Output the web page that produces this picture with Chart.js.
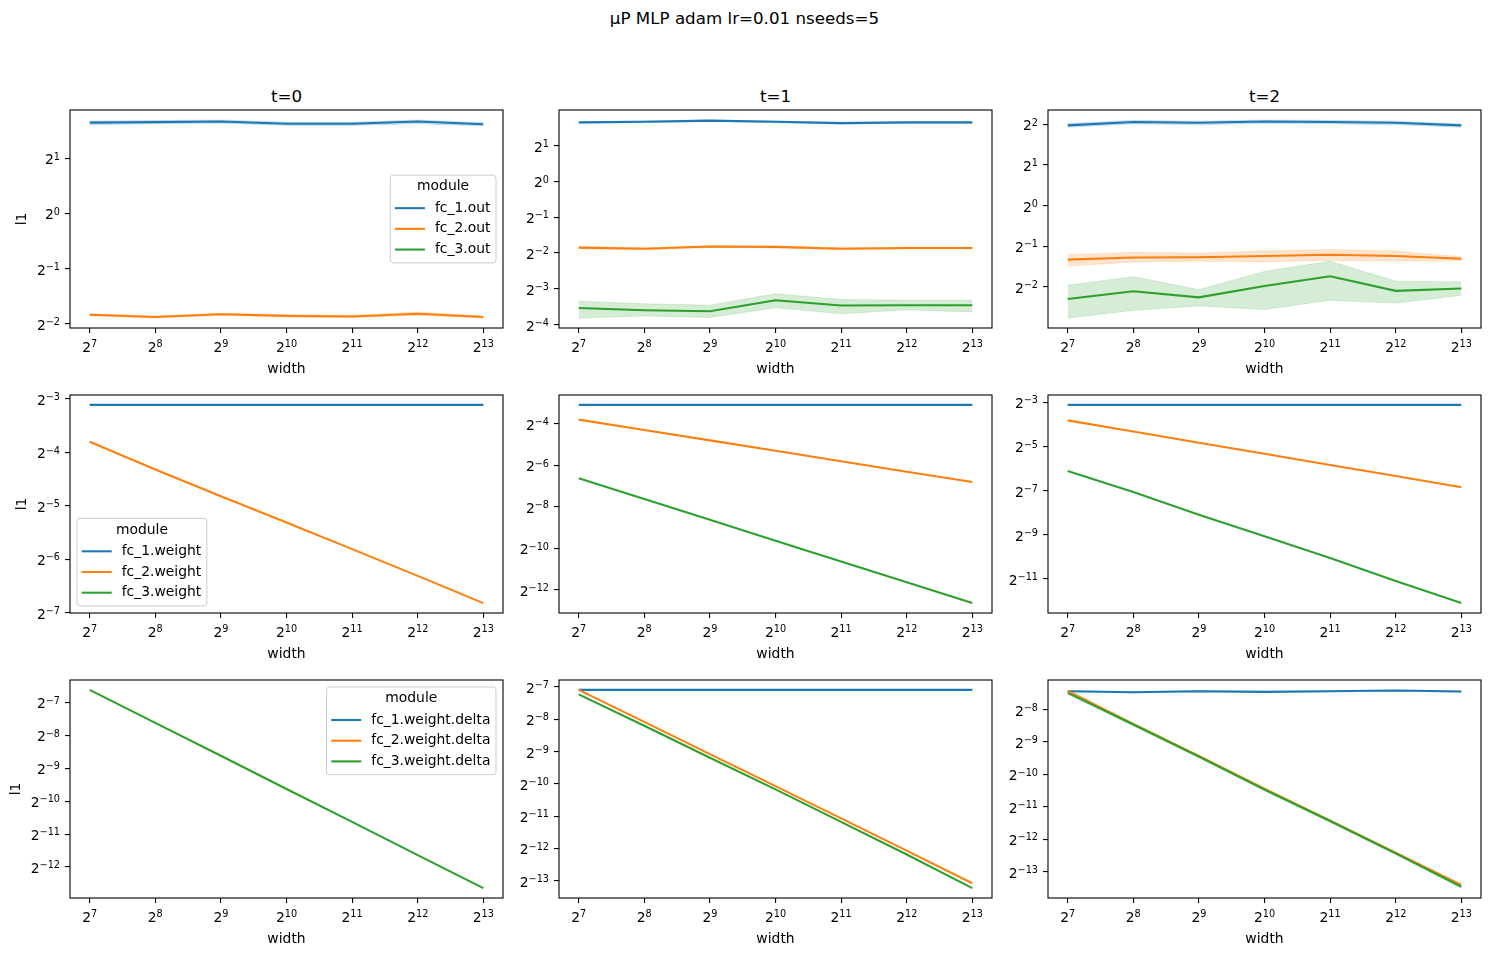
<!DOCTYPE html>
<html>
<head>
<meta charset="utf-8">
<script src="https://cdn.jsdelivr.net/npm/chart.js@4"></script>
<style>
  body { margin: 0; background: #fff; font-family: "DejaVu Sans", sans-serif; }
  #fig { position: relative; width: 1489px; height: 955px; }
  canvas { position: absolute; }
  .txt { position: absolute; text-align: center; color: #000; white-space: nowrap; }
</style>
</head>
<body>
<div id="fig"></div>
<script>
// Widths are powers of two: keep the exponents (x axis is log2)
const widthExp = [7, 8, 9, 10, 11, 12, 13];
const stepTitles = ['t=0', 't=1', 't=2'];
const outLabels = ['fc_1.out', 'fc_2.out', 'fc_3.out'];
const weightLabels = ['fc_1.weight', 'fc_2.weight', 'fc_3.weight'];
const deltaLabels = ['fc_1.weight.delta', 'fc_2.weight.delta', 'fc_3.weight.delta'];

// All l1 values below are read as log2(l1). Empty arrays = not drawn (zero at init)
// Row 1: module outputs
const out_t0_fc1 = [1.65, 1.66, 1.67, 1.63, 1.63, 1.67, 1.62];
const out_t0_fc1_lo = [1.61, 1.63, 1.64, 1.60, 1.60, 1.63, 1.59];
const out_t0_fc1_hi = [1.68, 1.69, 1.70, 1.66, 1.66, 1.70, 1.65];
const out_t0_fc2 = [-1.84, -1.88, -1.83, -1.86, -1.87, -1.82, -1.88];
const out_t0_fc2_lo = [-1.86, -1.90, -1.85, -1.88, -1.89, -1.85, -1.90];
const out_t0_fc2_hi = [-1.82, -1.86, -1.81, -1.84, -1.85, -1.79, -1.86];
const out_t0_fc3 = [];

const out_t1_fc1 = [1.65, 1.67, 1.70, 1.67, 1.63, 1.65, 1.65];
const out_t1_fc1_lo = [1.62, 1.64, 1.67, 1.64, 1.60, 1.62, 1.62];
const out_t1_fc1_hi = [1.67, 1.69, 1.72, 1.69, 1.65, 1.67, 1.67];
const out_t1_fc2 = [-1.85, -1.88, -1.82, -1.83, -1.88, -1.86, -1.86];
const out_t1_fc2_lo = [-1.88, -1.91, -1.85, -1.86, -1.91, -1.89, -1.89];
const out_t1_fc2_hi = [-1.82, -1.85, -1.80, -1.81, -1.85, -1.84, -1.84];
const out_t1_fc3 = [-3.54, -3.60, -3.63, -3.32, -3.47, -3.46, -3.46];
const out_t1_fc3_lo = [-3.82, -3.76, -3.80, -3.53, -3.70, -3.59, -3.65];
const out_t1_fc3_hi = [-3.35, -3.42, -3.46, -3.14, -3.30, -3.32, -3.32];

const out_t2_fc1 = [1.975, 2.06, 2.04, 2.07, 2.06, 2.04, 1.975];
const out_t2_fc1_lo = [1.93, 2.01, 1.99, 2.02, 2.01, 1.99, 1.93];
const out_t2_fc1_hi = [2.02, 2.10, 2.08, 2.11, 2.10, 2.08, 2.01];
const out_t2_fc2 = [-1.33, -1.28, -1.27, -1.24, -1.21, -1.24, -1.31];
const out_t2_fc2_lo = [-1.49, -1.39, -1.37, -1.38, -1.35, -1.36, -1.36];
const out_t2_fc2_hi = [-1.21, -1.15, -1.17, -1.12, -1.08, -1.12, -1.26];
const out_t2_fc3 = [-2.30, -2.11, -2.26, -1.98, -1.74, -2.10, -2.04];
const out_t2_fc3_lo = [-2.77, -2.58, -2.47, -2.56, -2.33, -2.40, -2.21];
const out_t2_fc3_hi = [-1.96, -1.75, -2.07, -1.62, -1.37, -1.86, -1.88];

// Row 2: weights
const weight_t0_fc1 = [-3.11, -3.11, -3.11, -3.11, -3.11, -3.11, -3.11];
const weight_t0_fc2 = [-3.80, -4.32, -4.82, -5.31, -5.81, -6.31, -6.82];
const weight_t0_fc3 = [];
const weight_t1_fc1 = [-3.08, -3.08, -3.08, -3.08, -3.08, -3.08, -3.08];
const weight_t1_fc2 = [-3.79, -4.29, -4.79, -5.29, -5.80, -6.30, -6.80];
const weight_t1_fc3 = [-6.62, -7.62, -8.62, -9.63, -10.63, -11.64, -12.64];
const weight_t2_fc1 = [-3.12, -3.12, -3.12, -3.12, -3.12, -3.12, -3.12];
const weight_t2_fc2 = [-3.82, -4.32, -4.83, -5.33, -5.84, -6.34, -6.85];
const weight_t2_fc3 = [-6.11, -7.06, -8.09, -9.06, -10.05, -11.09, -12.09];

// Row 3: weight deltas
const delta_t0_fc1 = [];
const delta_t0_fc2 = [];
const delta_t0_fc3 = [-6.62, -7.62, -8.62, -9.63, -10.63, -11.64, -12.64];
const delta_t1_fc1 = [-7.09, -7.09, -7.09, -7.09, -7.09, -7.09, -7.09];
const delta_t1_fc2 = [-7.09, -8.08, -9.08, -10.07, -11.07, -12.07, -13.08];
const delta_t1_fc3 = [-7.23, -8.20, -9.19, -10.17, -11.18, -12.19, -13.23];
const delta_t2_fc1 = [-7.43, -7.46, -7.43, -7.45, -7.43, -7.41, -7.44];
const delta_t2_fc1_lo = [-7.45, -7.48, -7.45, -7.47, -7.45, -7.43, -7.46];
const delta_t2_fc1_hi = [-7.41, -7.44, -7.41, -7.43, -7.41, -7.39, -7.42];
const delta_t2_fc2 = [-7.42, -8.44, -9.43, -10.44, -11.43, -12.42, -13.41];
const delta_t2_fc3 = [-7.48, -8.46, -9.45, -10.47, -11.44, -12.44, -13.47];
const delta_t2_fc3_lo = [-7.52, -8.50, -9.49, -10.51, -11.48, -12.48, -13.51];
const delta_t2_fc3_hi = [-7.44, -8.42, -9.41, -10.43, -11.40, -12.40, -13.43];

// y tick exponents for each panel (row by row)
const yTicks = [
    [[-2, -1, 0, 1], [-4, -3, -2, -1, 0, 1], [-2, -1, 0, 1, 2]],
    [[-7, -6, -5, -4, -3], [-12, -10, -8, -6, -4], [-11, -9, -7, -5, -3]],
    [[-12, -11, -10, -9, -8, -7], [-13, -12, -11, -10, -9, -8, -7], [-13, -12, -11, -10, -9, -8]]
];

const colors = ['#1f77b4', '#ff7f0e', '#2ca02c'];
const bandColors = ['rgba(31,119,180,0.2)', 'rgba(255,127,14,0.2)', 'rgba(44,160,44,0.2)'];

// Panel series: [mean, lo, hi] for fc_1, fc_2, fc_3
const panelSeries = [
    [
        [[out_t0_fc1, out_t0_fc1_lo, out_t0_fc1_hi], [out_t0_fc2, out_t0_fc2_lo, out_t0_fc2_hi], [out_t0_fc3]],
        [[out_t1_fc1, out_t1_fc1_lo, out_t1_fc1_hi], [out_t1_fc2, out_t1_fc2_lo, out_t1_fc2_hi], [out_t1_fc3, out_t1_fc3_lo, out_t1_fc3_hi]],
        [[out_t2_fc1, out_t2_fc1_lo, out_t2_fc1_hi], [out_t2_fc2, out_t2_fc2_lo, out_t2_fc2_hi], [out_t2_fc3, out_t2_fc3_lo, out_t2_fc3_hi]]
    ],
    [
        [[weight_t0_fc1], [weight_t0_fc2], [weight_t0_fc3]],
        [[weight_t1_fc1], [weight_t1_fc2], [weight_t1_fc3]],
        [[weight_t2_fc1], [weight_t2_fc2], [weight_t2_fc3]]
    ],
    [
        [[delta_t0_fc1], [delta_t0_fc2], [delta_t0_fc3]],
        [[delta_t1_fc1], [delta_t1_fc2], [delta_t1_fc3]],
        [[delta_t2_fc1, delta_t2_fc1_lo, delta_t2_fc1_hi], [delta_t2_fc2], [delta_t2_fc3, delta_t2_fc3_lo, delta_t2_fc3_hi]]
    ]
];
const rowLabels = [outLabels, weightLabels, deltaLabels];
// legend only in the first column, matplotlib "best" spots
const legendLocs = ['center right', 'lower left', 'upper right'];

// Page geometry of the plot areas
const plotLefts = [70, 559, 1048];
const plotTops = [110, 395, 680];
const plotW = 433, plotH = 218;
const axisW = 70, axisH = 52, padTop = 12, padRight = 12;
const ylabelPad = [14.5, 14, 8.5];

const FONT = 13.9;
const SUP_FONT = 9.7;
Chart.defaults.font.family = '"DejaVu Sans", sans-serif';
Chart.defaults.font.size = FONT;
Chart.defaults.color = '#000';

// Draw the black box around the plot area
const framePlugin = {
    id: 'frame',
    afterDraw(chart) {
        const a = chart.chartArea, ctx = chart.ctx;
        ctx.save();
        ctx.strokeStyle = '#000';
        ctx.lineWidth = 1.1;
        ctx.strokeRect(a.left, a.top, a.right - a.left, a.bottom - a.top);
        ctx.restore();
    }
};

/**
 * Writes a "2^n" label like matplotlib mathtext: base digit plus a smaller raised exponent
 */
function drawPow(ctx, exp, x, baseline, align) {
    const supText = String(exp).replace('-', '\u2212');
    ctx.font = FONT + 'px "DejaVu Sans"';
    const wBase = ctx.measureText('2').width;
    ctx.font = SUP_FONT + 'px "DejaVu Sans"';
    const wSup = ctx.measureText(supText).width;
    const total = wBase + wSup;
    const start = align === 'right' ? x - total : x - total / 2;
    ctx.font = FONT + 'px "DejaVu Sans"';
    ctx.fillText('2', start, baseline);
    ctx.font = SUP_FONT + 'px "DejaVu Sans"';
    ctx.fillText(supText, start + wBase, baseline - 4.8);
}

// Tick labels for both log2 axes
const powTicksPlugin = {
    id: 'powTicks',
    afterDraw(chart) {
        const ctx = chart.ctx, a = chart.chartArea;
        const xs = chart.scales.x, ys = chart.scales.y;
        ctx.save();
        ctx.fillStyle = '#000';
        ctx.textAlign = 'left';
        ctx.textBaseline = 'alphabetic';
        xs.ticks.forEach(t => {
            drawPow(ctx, t.value, xs.getPixelForValue(t.value), a.bottom + 24, 'center');
        });
        ys.ticks.forEach(t => {
            drawPow(ctx, t.value, a.left - 10, ys.getPixelForValue(t.value) + 6, 'right');
        });
        ctx.restore();
    }
};

// Matplotlib-like legend with a "module" title, drawn inside the plot area
const legendPlugin = {
    id: 'mplLegend',
    afterDraw(chart, args, opts) {
        if (!opts || !opts.labels) return;
        const a = chart.chartArea, ctx = chart.ctx;
        ctx.save();
        ctx.font = FONT + 'px "DejaVu Sans"';
        let maxW = 0;
        opts.labels.forEach(l => { maxW = Math.max(maxW, ctx.measureText(l).width); });
        const w = 44.7 + maxW + 5.6, h = 87.7, gap = 7;
        let x, y;
        if (opts.loc === 'center right') { x = a.right - gap - w; y = (a.top + a.bottom) / 2 - h / 2; }
        else if (opts.loc === 'lower left') { x = a.left + gap; y = a.bottom - gap - h; }
        else { x = a.right - gap - w; y = a.top + gap; }
        ctx.beginPath();
        ctx.roundRect(x, y, w, h, 3);
        ctx.fillStyle = 'rgba(255,255,255,0.8)';
        ctx.fill();
        ctx.strokeStyle = '#cccccc';
        ctx.lineWidth = 1;
        ctx.stroke();
        ctx.fillStyle = '#000';
        ctx.textBaseline = 'middle';
        ctx.textAlign = 'center';
        ctx.fillText('module', x + w / 2, y + 11.7);
        ctx.textAlign = 'left';
        opts.labels.forEach((l, i) => {
            const ly = y + 33 + i * 20.7;
            ctx.strokeStyle = colors[i];
            ctx.lineWidth = 2.08;
            ctx.beginPath();
            ctx.moveTo(x + 4.7, ly);
            ctx.lineTo(x + 34.7, ly);
            ctx.stroke();
            ctx.fillText(l, x + 44.7, ly);
        });
        ctx.restore();
    }
};

function points(vals) {
    return vals.map((v, i) => ({ x: widthExp[i], y: v }));
}

function buildPanel(row, col) {
    const series = panelSeries[row][col];
    const labels = rowLabels[row];
    const datasets = [];
    let lo = Infinity, hi = -Infinity;

    series.forEach((s, k) => {
        const [mean, low, high] = s;
        if (!mean.length) return;
        [mean, low || [], high || []].forEach(arr => arr.forEach(v => { lo = Math.min(lo, v); hi = Math.max(hi, v); }));
        // lines on top, fc_3 drawn last
        datasets.push({
            label: labels[k], data: points(mean), borderColor: colors[k], borderWidth: 2.08,
            pointRadius: 0, tension: 0, fill: false, order: 3 - k
        });
        if (low) {
            datasets.push({
                data: points(high), borderColor: bandColors[k], borderWidth: 0.8, pointRadius: 0,
                backgroundColor: bandColors[k], fill: '+1', order: 10
            });
            datasets.push({
                data: points(low), borderColor: bandColors[k], borderWidth: 0.8, pointRadius: 0,
                fill: false, order: 10
            });
        }
    });

    // 5% margins like matplotlib autoscale
    const yPad = (hi - lo) * 0.05;
    const xPad = (widthExp[widthExp.length - 1] - widthExp[0]) * 0.05;

    const canvas = document.createElement('canvas');
    canvas.width = axisW + plotW + padRight;
    canvas.height = padTop + plotH + axisH;
    canvas.style.left = (plotLefts[col] - axisW) + 'px';
    canvas.style.top = (plotTops[row] - padTop) + 'px';
    document.getElementById('fig').appendChild(canvas);

    const tickGrid = { drawOnChartArea: false, drawTicks: true, tickLength: 5, tickColor: '#000', lineWidth: 1.1 };

    new Chart(canvas, {
        type: 'line',
        data: { datasets: datasets },
        options: {
            responsive: false,
            animation: false,
            devicePixelRatio: 1,
            layout: { padding: { left: 0, top: padTop, right: padRight, bottom: 0 } },
            plugins: {
                legend: { display: false },
                tooltip: { enabled: false },
                mplLegend: col === 0 ? { labels: labels, loc: legendLocs[row] } : {}
            },
            scales: {
                x: {
                    type: 'linear',
                    min: widthExp[0] - xPad,
                    max: widthExp[widthExp.length - 1] + xPad,
                    afterFit: s => { s.height = axisH; },
                    afterBuildTicks: s => { s.ticks = widthExp.map(v => ({ value: v })); },
                    grid: tickGrid,
                    border: { display: false },
                    ticks: { display: false, autoSkip: false },
                    title: { display: true, text: 'width', padding: { top: 0, bottom: 2.5 } }
                },
                y: {
                    type: 'linear',
                    min: lo - yPad,
                    max: hi + yPad,
                    afterFit: s => { s.width = axisW; },
                    afterBuildTicks: s => { s.ticks = yTicks[row][col].map(v => ({ value: v })); },
                    grid: tickGrid,
                    border: { display: false },
                    ticks: { display: false, autoSkip: false },
                    title: { display: col === 0, text: 'l1', padding: { top: ylabelPad[row], bottom: 0 } }
                }
            }
        },
        plugins: [framePlugin, powTicksPlugin, legendPlugin]
    });
}

// Titles as plain text
function addText(text, left, top, width, size) {
    const d = document.createElement('div');
    d.className = 'txt';
    d.textContent = text;
    d.style.left = left + 'px';
    d.style.top = top + 'px';
    d.style.width = width + 'px';
    d.style.fontSize = size + 'px';
    d.style.lineHeight = '20px';
    document.getElementById('fig').appendChild(d);
}

addText('\u03bcP MLP adam lr=0.01 nseeds=5', 0, 8, 1489, 16.7);
for (let c = 0; c < 3; c++) {
    addText(stepTitles[c], plotLefts[c], 86, plotW, 16.7);
}
for (let r = 0; r < 3; r++) {
    for (let c = 0; c < 3; c++) {
        buildPanel(r, c);
    }
}
</script>
</body>
</html>
